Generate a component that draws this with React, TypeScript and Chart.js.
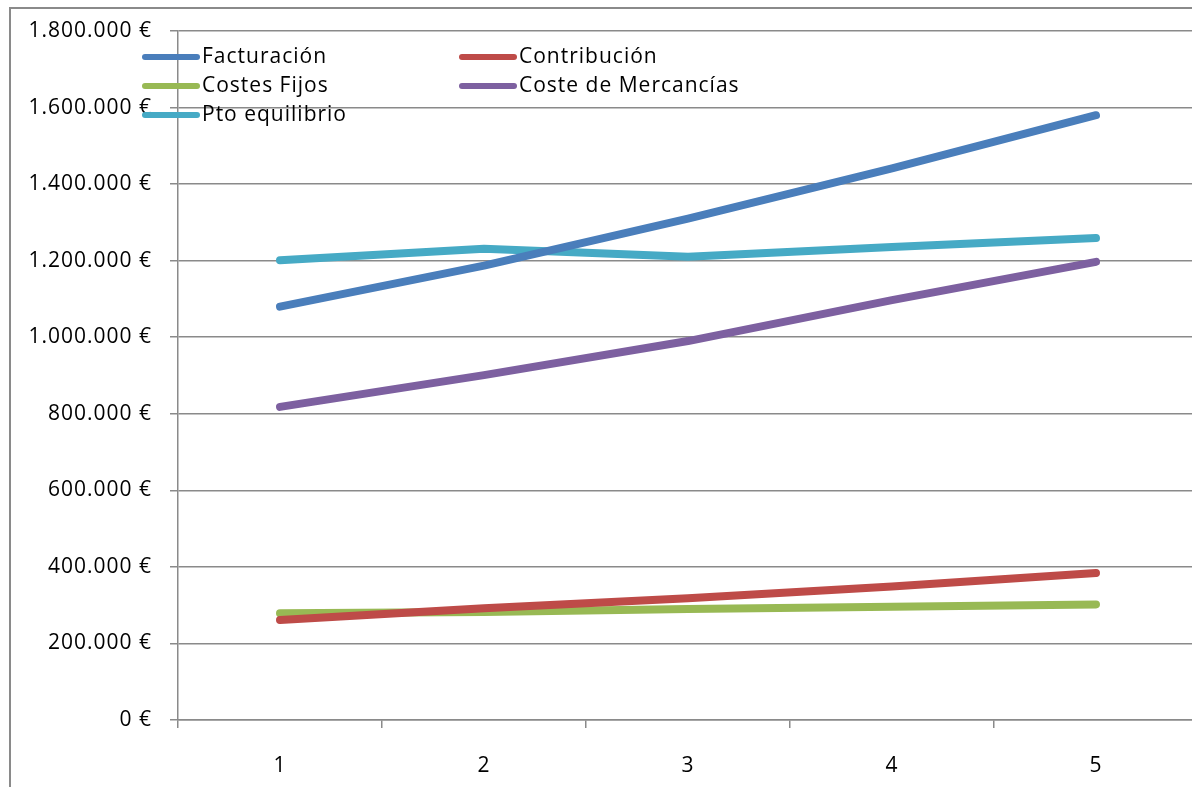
import React, { useEffect, useRef } from "react";
import { Chart, registerables } from "chart.js";

Chart.register(...registerables);

const categories = ["1", "2", "3", "4", "5"];
const facturacion = [1080000, 1187000, 1310000, 1441000, 1580000];
const contribucion = [261000, 292000, 318000, 349000, 384000];
const costesFijos = [279000, 282000, 290000, 296000, 302000];
const costeMercancias = [818000, 901000, 990000, 1097000, 1197000];
const ptoEquilibrio = [1201000, 1231000, 1210000, 1236000, 1259000];
const yTicks = [0, 200000, 400000, 600000, 800000, 1000000, 1200000, 1400000, 1600000, 1800000];

const FONT = "'Open Sans', sans-serif";
const GRID = "#8a8a8a";

function fmt(v: number) {
  return String(Math.round(v)).replace(/\B(?=(\d{3})+(?!\d))/g, ".") + " €";
}

const spacingPlugin = {
  id: "letterSpacing",
  beforeDraw(chart: any) {
    try {
      (chart.ctx as any).letterSpacing = "1px";
    } catch (e) {}
  },
};

const legendPlugin = {
  id: "customLegend",
  afterDraw(chart: any) {
    const ctx = chart.ctx;
    const ds = chart.data.datasets;
    const cols = [145, 462];
    const rows = [57, 86, 115];
    ctx.save();
    ctx.font = "21px " + FONT;
    ctx.textBaseline = "middle";
    ctx.fillStyle = "#000";
    ds.forEach((d: any, i: number) => {
      const x = cols[i % 2];
      const y = rows[Math.floor(i / 2)];
      ctx.strokeStyle = d.borderColor;
      ctx.lineWidth = 6;
      ctx.lineCap = "round";
      ctx.beginPath();
      ctx.moveTo(x, y);
      ctx.lineTo(x + 52, y);
      ctx.stroke();
      ctx.fillText(d.label, x + 57, y);
    });
    ctx.restore();
  },
};

export default function App() {
  const ref = useRef<HTMLCanvasElement>(null);
  useEffect(() => {
    if (!ref.current) return;
    const mk = (label: string, data: number[], color: string) => ({
      label,
      data,
      borderColor: color,
      backgroundColor: color,
      borderWidth: 8,
      borderCapStyle: "round" as const,
      borderJoinStyle: "round" as const,
      pointRadius: 0,
      tension: 0,
      fill: false,
    });
    const chart = new Chart(ref.current, {
      type: "line",
      data: {
        labels: categories,
        datasets: [
          mk("Facturación", facturacion, "#4A7EBB"),
          mk("Contribución", contribucion, "#BE4B48"),
          mk("Costes Fijos", costesFijos, "#98B954"),
          mk("Coste de Mercancías", costeMercancias, "#7D60A0"),
          mk("Pto equilibrio", ptoEquilibrio, "#46AAC5"),
        ],
      },
      options: {
        animation: false,
        responsive: false,
        devicePixelRatio: 1,
        layout: { padding: { left: 0, top: 31, right: 2, bottom: 0 } },
        plugins: { legend: { display: false }, tooltip: { enabled: false } },
        scales: {
          x: {
            offset: true,
            grid: {
              display: true,
              offset: true,
              drawOnChartArea: false,
              drawTicks: true,
              tickLength: 8,
              color: GRID,
              lineWidth: 1.5,
            },
            border: { display: true, color: GRID, width: 1.5 },
            ticks: { color: "#000", font: { family: FONT, size: 21 }, padding: 25, maxRotation: 0 },
            afterFit: (s: any) => {
              s.height = 67;
            },
          },
          y: {
            min: 0,
            max: 1800000,
            afterBuildTicks: (s: any) => {
              s.ticks = yTicks.map((v) => ({ value: v }));
            },
            grid: { color: GRID, lineWidth: 1.5, drawTicks: true, tickLength: 8 },
            border: { display: true, color: GRID, width: 1.5 },
            ticks: {
              color: "#000",
              font: { family: FONT, size: 21 },
              padding: 18,
              callback: (v: any) => fmt(Number(v)),
            },
            afterFit: (s: any) => {
              s.width = 178;
            },
          },
        },
      },
      plugins: [spacingPlugin, legendPlugin],
    });
    return () => chart.destroy();
  }, []);

  return (
    <div
      style={{
        position: "fixed",
        left: 0,
        top: 0,
        width: 1192,
        height: 787,
        overflow: "hidden",
        background: "#fff",
      }}
    >
      <canvas ref={ref} width={1200} height={787} style={{ display: "block", width: 1200, height: 787 }} />
      <div
        style={{
          position: "absolute",
          left: 9,
          top: 7,
          width: 3000,
          height: 3000,
          borderLeft: "2px solid #8a8a8a",
          borderTop: "2px solid #8a8a8a",
          pointerEvents: "none",
        }}
      />
    </div>
  );
}
